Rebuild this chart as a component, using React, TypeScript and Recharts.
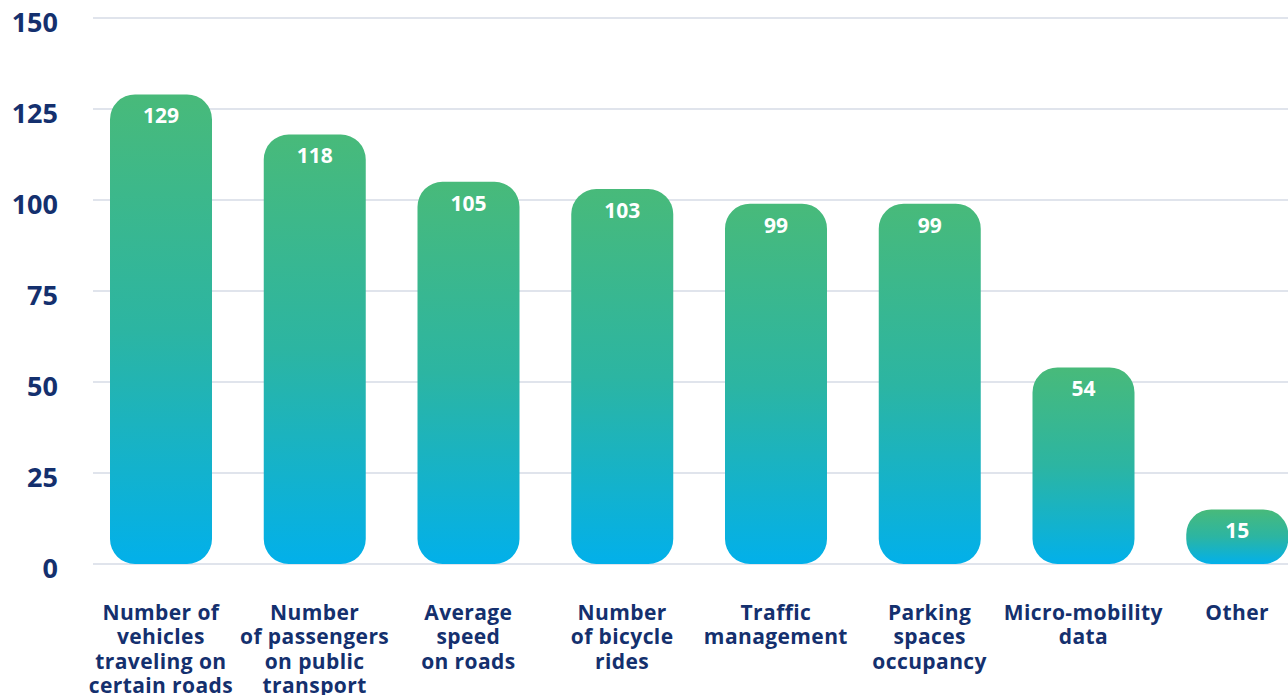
import { BarChart, Bar, XAxis, YAxis, CartesianGrid, LabelList } from "recharts"

const categories = [
  "Number of\nvehicles\ntraveling on\ncertain roads",
  "Number\nof passengers\non public\ntransport",
  "Average\nspeed\non roads",
  "Number\nof bicycle\nrides",
  "Traffic\nmanagement",
  "Parking\nspaces\noccupancy",
  "Micro-mobility\ndata",
  "Other",
]
const counts = [129, 118, 105, 103, 99, 99, 54, 15]
const yTicks = [0, 25, 50, 75, 100, 125, 150]

const NAVY = "#14306e"
const FONT = "'Open Sans', sans-serif"

const data = categories.map((name, i) => ({ name, value: counts[i] }))

const YTick = ({ y, payload }: any) => (
  <text
    x={58}
    y={y + 14}
    textAnchor="end"
    fill={NAVY}
    fontFamily={FONT}
    fontWeight={700}
    fontSize={27}
  >
    {payload.value}
  </text>
)

const XTick = ({ x, y, payload }: any) => {
  const lines = String(payload.value).split("\n")
  return (
    <text
      x={x}
      y={y + 56}
      textAnchor="middle"
      fill={NAVY}
      fontFamily={FONT}
      fontWeight={700}
      fontSize={21}
      letterSpacing={0.4}
    >
      {lines.map((line, i) => (
        <tspan key={i} x={x} dy={i === 0 ? 0 : 24.3}>
          {line}
        </tspan>
      ))}
    </text>
  )
}

// value printed inside the top of each bar
const ValueLabel = ({ x, y, width, value }: any) => (
  <text
    x={x + width / 2}
    y={y + 29}
    textAnchor="middle"
    fill="#ffffff"
    fontFamily={FONT}
    fontWeight={700}
    fontSize={21}
  >
    {value}
  </text>
)

export default function App() {
  return (
    <div
      style={{
        position: "fixed",
        top: 0,
        left: 0,
        width: 1288,
        height: 695,
        overflow: "hidden",
        background: "#fff",
      }}
    >
      <BarChart
        width={1314}
        height={695}
        data={data}
        margin={{ top: 18, right: 0, bottom: 0, left: 0 }}
      >
        <defs>
          <linearGradient id="barFill" x1="0" y1="0" x2="0" y2="1">
            <stop offset="0%" stopColor="#48ba7a" />
            <stop offset="50%" stopColor="#2cb5a2" />
            <stop offset="100%" stopColor="#02b0ea" />
          </linearGradient>
        </defs>
        <CartesianGrid
          vertical={false}
          stroke="#d6dbe6"
          strokeWidth={1.5}
          x={93}
          width={1221}
        />
        <XAxis
          dataKey="name"
          height={131}
          axisLine={false}
          tickLine={false}
          tickSize={0}
          tickMargin={0}
          interval={0}
          tick={<XTick />}
        />
        <YAxis
          width={84}
          domain={[0, 150]}
          ticks={yTicks}
          axisLine={false}
          tickLine={false}
          tick={<YTick />}
        />
        <Bar
          dataKey="value"
          fill="url(#barFill)"
          barSize={102}
          radius={[25, 25, 25, 25]}
          isAnimationActive={false}
        >
          <LabelList dataKey="value" content={<ValueLabel />} />
        </Bar>
      </BarChart>
    </div>
  )
}
